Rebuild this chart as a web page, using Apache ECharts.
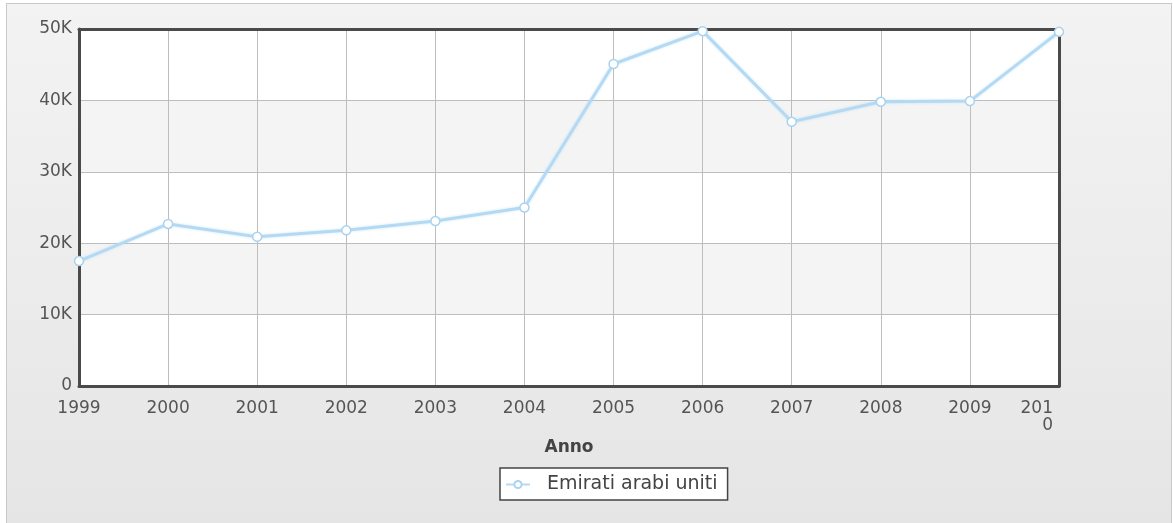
<!DOCTYPE html>
<html>
<head>
<meta charset="utf-8">
<title>Emirati arabi uniti</title>
<script src="https://cdn.jsdelivr.net/npm/echarts@6/dist/echarts.min.js"></script>
<style>
  html, body { margin: 0; padding: 0; background: #ffffff; }
  #wrap { position: relative; width: 1174px; height: 523px; overflow: hidden; }
  #panel {
    position: absolute; left: 6px; top: 3px; width: 1164px; height: 530px;
    border: 1px solid #c9c9c9;
    background: linear-gradient(to bottom, #f3f3f3 0%, #e5e5e5 100%);
  }
  #chart { position: absolute; left: 0; top: 0; width: 1174px; height: 523px; }
</style>
</head>
<body>
<div id="wrap">
  <div id="panel"></div>
  <div id="chart"></div>
</div>
<script>
// Anni e valori della serie
const years = ['1999', '2000', '2001', '2002', '2003', '2004', '2005', '2006', '2007', '2008', '2009', '2010'];
const values = [17500, 22700, 20900, 21800, 23100, 25000, 45100, 49700, 37000, 39800, 39900, 49600];
const seriesName = 'Emirati arabi uniti';
const yTickLabels = ['0', '10K', '20K', '30K', '40K', '50K'];
const xTitle = 'Anno';

const lineColor = '#b4daf3';
const frameLine = { show: true, onZero: false, lineStyle: { color: '#4a4a4a', width: 3 } };

// the last year label sits against the right edge and wraps onto two lines
const xData = years.map((y, i) => i === years.length - 1
  ? { value: y, textStyle: { align: 'right', padding: [0, 6, 0, 0] } }
  : y);

const chart = echarts.init(document.getElementById('chart'), null, { renderer: 'canvas' });
chart.setOption({
  backgroundColor: 'transparent',
  animation: false,
  grid: {
    left: 79, right: 115, top: 29, bottom: 137,
    show: true, borderWidth: 0, backgroundColor: '#ffffff'
  },
  xAxis: [{
    type: 'category',
    data: xData,
    boundaryGap: false,
    name: xTitle,
    nameLocation: 'middle',
    nameGap: 53,
    nameTextStyle: { fontFamily: 'DejaVu Sans', fontSize: 17, fontWeight: 'bold', color: '#444' },
    axisLine: frameLine,
    axisTick: { show: false },
    axisLabel: {
      interval: 0,
      margin: 14,
      fontFamily: 'DejaVu Sans', fontSize: 17, color: '#555',
      formatter: (v, i) => i === years.length - 1 ? v.slice(0, 3) + '\n' + v.slice(3) : v
    },
    splitLine: { show: true, lineStyle: { color: '#bdbdbd', width: 1 } },
    z: 3
  }, {
    // top edge of the plot frame
    type: 'category',
    position: 'top',
    data: years,
    boundaryGap: false,
    axisLine: frameLine,
    axisTick: { show: false },
    axisLabel: { show: false },
    splitLine: { show: false },
    z: 3
  }],
  yAxis: [{
    type: 'value',
    min: 0, max: 50000, interval: 10000,
    axisLine: frameLine,
    axisTick: { show: false },
    axisLabel: {
      margin: 7,
      fontFamily: 'DejaVu Sans', fontSize: 17, color: '#555',
      formatter: (v) => yTickLabels[Math.round(v / 10000)]
    },
    splitLine: { show: true, lineStyle: { color: '#bdbdbd', width: 1 } },
    splitArea: { show: true, areaStyle: { color: ['#ffffff', '#f4f4f4'] } },
    z: 3
  }, {
    // right edge of the plot frame
    type: 'value',
    position: 'right',
    min: 0, max: 50000, interval: 10000,
    axisLine: frameLine,
    axisTick: { show: false },
    axisLabel: { show: false },
    splitLine: { show: false },
    z: 3
  }],
  legend: {
    left: 500, top: 468,
    backgroundColor: '#ffffff',
    borderColor: '#444', borderWidth: 1.5, borderRadius: 0,
    padding: [7, 10, 6, 5],
    itemWidth: 24, itemHeight: 9,
    textStyle: { fontFamily: 'DejaVu Sans', fontSize: 19, color: '#444', padding: [0, 0, 0, 12] },
    data: [seriesName]
  },
  series: [{
    name: seriesName,
    type: 'line',
    data: values,
    clip: false,
    z: 5,
    symbol: 'circle',
    symbolSize: 9,
    showAllSymbol: true,
    lineStyle: { color: lineColor, width: 3, shadowColor: 'rgba(180,218,243,0.6)', shadowBlur: 3 },
    itemStyle: { color: '#ffffff', borderColor: '#a9d3f0', borderWidth: 1.5 }
  }]
});
</script>
</body>
</html>
